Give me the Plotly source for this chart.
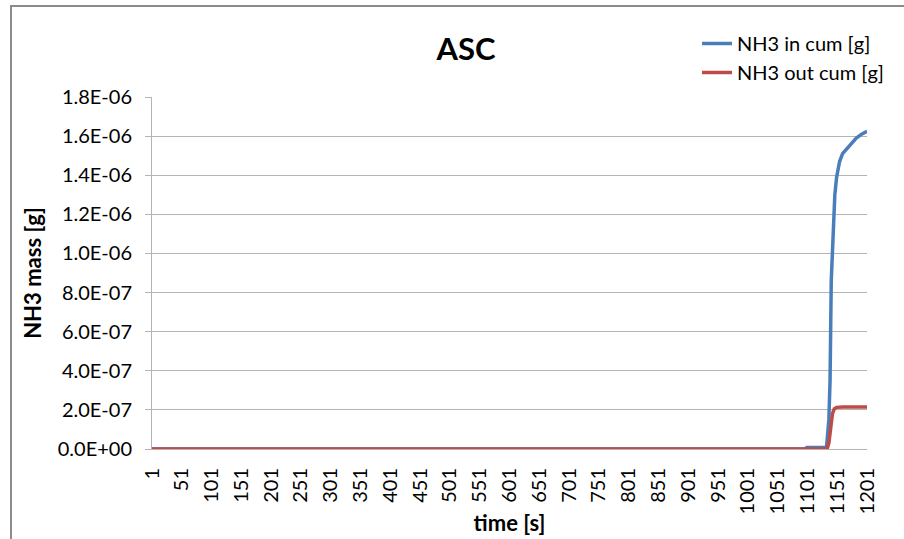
import plotly.graph_objects as go

# Cumulative NH3 mass through the ASC, sampled breakpoints (time step index, grams)
time_in = [1, 1097, 1100, 1133, 1137, 1139, 1141, 1144, 1147, 1150, 1155, 1160, 1167, 1175, 1183, 1192, 1201]
nh3_in = [0.0, 0.0, 0.008e-6, 0.008e-6, 0.15e-6, 0.35e-6, 0.86e-6, 1.15e-6, 1.30e-6, 1.39e-6, 1.47e-6, 1.51e-6,
          1.535e-6, 1.565e-6, 1.59e-6, 1.61e-6, 1.625e-6]

time_out = [1, 1134, 1137, 1140, 1143, 1146, 1150, 1160, 1201]
nh3_out = [0.0, 0.0, 0.03e-6, 0.10e-6, 0.18e-6, 0.205e-6, 0.213e-6, 0.215e-6, 0.215e-6]

x_ticks = [1, 51, 101, 151, 201, 251, 301, 351, 401, 451, 501, 551, 601, 651, 701, 751,
           801, 851, 901, 951, 1001, 1051, 1101, 1151, 1201]
y_ticks = [0.0, 0.2e-6, 0.4e-6, 0.6e-6, 0.8e-6, 1.0e-6, 1.2e-6, 1.4e-6, 1.6e-6, 1.8e-6]
y_tick_text = ["0.0E+00", "2.0E-07", "4.0E-07", "6.0E-07", "8.0E-07",
               "1.0E-06", "1.2E-06", "1.4E-06", "1.6E-06", "1.8E-06"]

FONT = "Lato, Calibri, Carlito, sans-serif"
GRID = "#b4b4b4"

# plot area in pixels: x 152..867, y 97..449
L, R, T, B = 152, 867, 97, 449
W, H = 904, 539
PW, PH = R - L, B - T

fig = go.Figure()
fig.add_trace(go.Scatter(x=time_in, y=nh3_in, mode="lines", name="NH3 in cum [g]",
                         line=dict(color="#4a7ebb", width=3.5)))
fig.add_trace(go.Scatter(x=time_out, y=nh3_out, mode="lines", name="NH3 out cum [g]",
                         line=dict(color="#be4b48", width=3.5)))

fig.update_layout(
    width=W, height=H,
    margin=dict(l=L, r=W - R, t=T, b=H - B, autoexpand=False),
    paper_bgcolor="white", plot_bgcolor="white",
    font=dict(family=FONT, size=20, color="#000000"),
    title=dict(text="<b>ASC</b>", x=466 / W, xanchor="center", y=1 - 49 / H, yanchor="middle",
               font=dict(family=FONT, size=31, color="#000000")),
    showlegend=True,
    legend=dict(x=(697 - L) / PW, y=(B - 24) / PH, xanchor="left", yanchor="top",
                bgcolor="rgba(0,0,0,0)", font=dict(family=FONT, size=20), tracegroupgap=0,
                itemwidth=30),
    xaxis=dict(range=[1, 1201], tickmode="array", tickvals=x_ticks, ticktext=[str(v) for v in x_ticks],
               tickangle=-90, showgrid=False, zeroline=False, showline=True, linecolor=GRID, linewidth=1,
               ticks="", tickfont=dict(family=FONT, size=20), ticklabelstandoff=10, automargin=False,
               title=dict(text="<b>time [s]</b>", font=dict(family=FONT, size=22), standoff=2)),
    yaxis=dict(range=[0, 1.8e-6], tickmode="array", tickvals=y_ticks, ticktext=y_tick_text,
               showgrid=True, gridcolor=GRID, gridwidth=1, zeroline=False,
               showline=True, linecolor=GRID, linewidth=1, ticks="outside", ticklen=6, tickcolor=GRID,
               tickfont=dict(family=FONT, size=20), ticklabelstandoff=9, automargin=False,
               title=dict(text="<b>NH3 mass [g]</b>", font=dict(family=FONT, size=22), standoff=10)),
)

# Outer chart frame
fig.add_shape(type="rect", xref="paper", yref="paper",
              x0=(11 - L) / PW, x1=1.2, y0=-0.4, y1=(B - 6) / PH,
              line=dict(color="#8c8c8c", width=2), fillcolor="rgba(0,0,0,0)", layer="below")

fig.write_html("out.html")
